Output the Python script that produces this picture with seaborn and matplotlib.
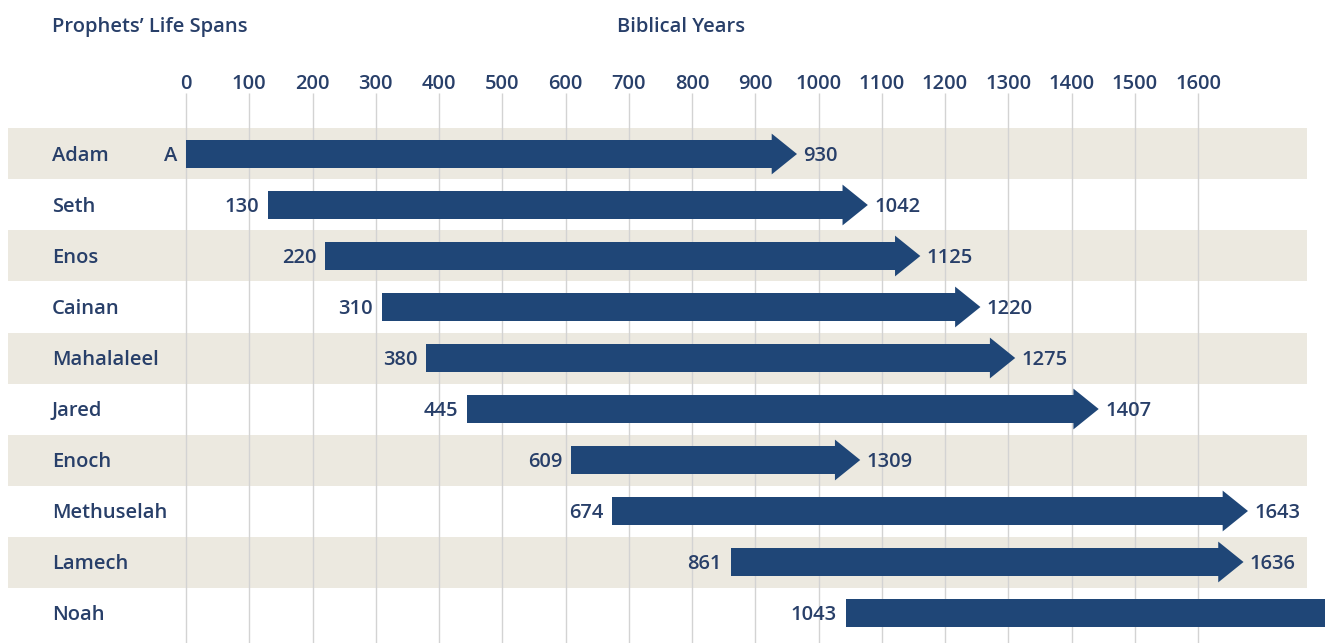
import numpy as np
import pandas as pd
import matplotlib
matplotlib.use("Agg")
import matplotlib.pyplot as plt
import seaborn as sns

# Prophets and their years (as printed on the chart)
PROPHETS = ['Adam', 'Seth', 'Enos', 'Cainan', 'Mahalaleel',
            'Jared', 'Enoch', 'Methuselah', 'Lamech', 'Noah']
START_YEARS = [0, 130, 220, 310, 380, 445, 609, 674, 861, 1043]
# where each arrow body ends on the chart (Enoch is drawn short of its label)
END_YEARS = [930, 1042, 1125, 1220, 1275, 1407, 1030, 1643, 1636, 1993]
START_LABELS = ['A', '130', '220', '310', '380', '445', '609', '674', '861', '1043']
END_LABELS = ['930', '1042', '1125', '1220', '1275', '1407', '1309', '1643', '1636', '']
TICK_YEARS = [0, 100, 200, 300, 400, 500, 600, 700, 800,
              900, 1000, 1100, 1200, 1300, 1400, 1500, 1600]

NAVY = '#1f4677'
TEXT = '#283f69'
BAND = '#ece9e0'
GRID = '#d3d3d3'

PX = 0.6325  # pixels per year
X_MIN, X_MAX = -186 / PX, (1325 - 186) / PX
Y_TOP, Y_BOT = -154 / 51, (643 - 154) / 51
HEAD_LEN = 36
DY = 0.045  # nudge text down a little

sns.set_theme(style='white')
plt.rcParams['font.family'] = ['Open Sans', 'DejaVu Sans']

df = pd.DataFrame({'name': PROPHETS, 'start': START_YEARS, 'end': END_YEARS})
df['span'] = df['end'] - df['start']

fig = plt.figure(figsize=(13.25, 6.43), dpi=100)
ax = fig.add_axes([0, 0, 1, 1])

# alternating beige bands
for i in range(0, len(PROPHETS), 2):
    ax.axhspan(i - 0.5, i + 0.5, xmin=8 / 1325, xmax=1307 / 1325, color=BAND, zorder=0, lw=0)

# vertical grid lines
ax.vlines(TICK_YEARS, -1.2, Y_BOT, color=GRID, lw=1, zorder=1)

# arrow bodies
sns.barplot(data=df, x='span', y='name', order=PROPHETS, left=df['start'],
            color=NAVY, width=0.53, saturation=1, orient='y', ax=ax, zorder=3,
            linewidth=0)

# arrow heads (overlap the body a bit so no seam shows)
for i, end in enumerate(END_YEARS):
    ax.fill([end - 4, end - 4, end + HEAD_LEN], [i - 0.4, i + 0.4, i],
            color=NAVY, lw=0, zorder=4)

font = dict(color=TEXT, fontsize=14.5, fontweight='semibold')

for i, name in enumerate(PROPHETS):
    ax.text(-212, i + DY, name, ha='left', va='center', **font)
    ax.text(START_YEARS[i] - 14, i + DY, START_LABELS[i], ha='right', va='center', **font)
    ax.text(END_YEARS[i] + HEAD_LEN + 10, i + DY, END_LABELS[i], ha='left', va='center', **font)

for t in TICK_YEARS:
    ax.text(t, -1.42 + DY, str(t), ha='center', va='center', **font)

ax.text(-212, -2.53 + DY, 'Prophets\u2019 Life Spans', ha='left', va='center', **font)
ax.text((617 - 186) / PX, -2.53 + DY, 'Biblical Years', ha='left', va='center', **font)

ax.set_xlim(X_MIN, X_MAX)
ax.set_ylim(Y_BOT, Y_TOP)
ax.axis('off')

fig.savefig('out.png', dpi=100)
